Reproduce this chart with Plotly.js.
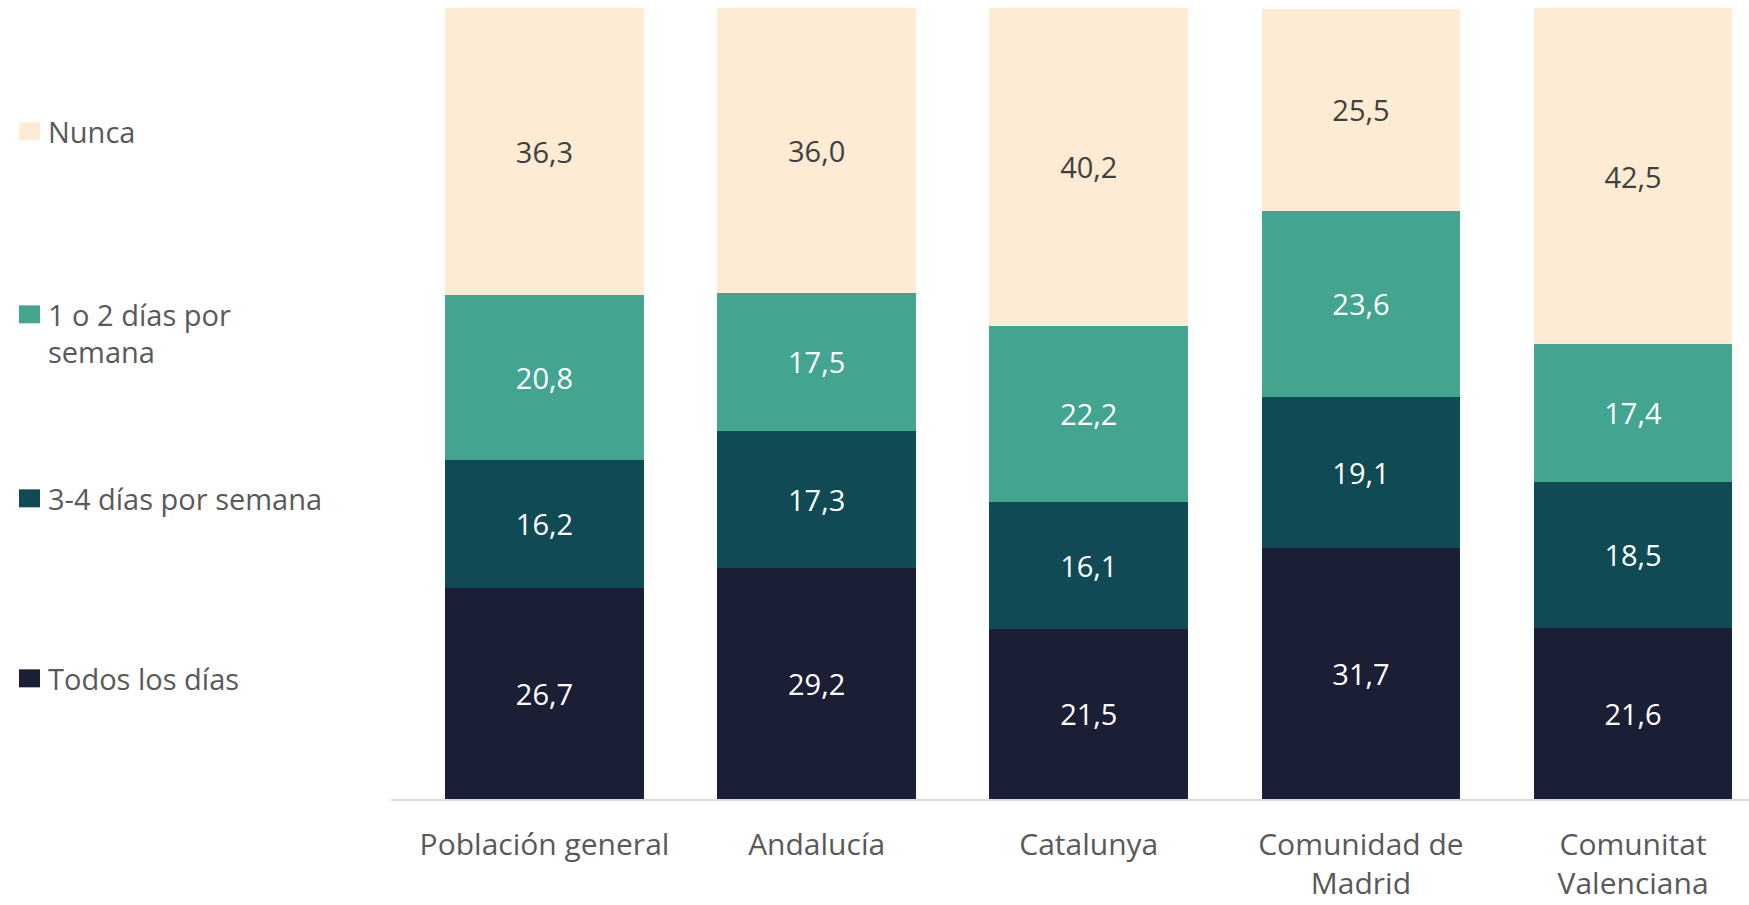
<!DOCTYPE html>
<html>
<head>
<meta charset="utf-8">
<script src="https://cdn.plot.ly/plotly-3.0.1.min.js"></script>
<style>html,body{margin:0;padding:0;background:#fff;}#chart{width:1749px;height:905px;}</style>
</head>
<body>
<div id="chart"></div>
<script>
const categories = ["Población general", "Andalucía", "Catalunya", "Comunidad de<br>Madrid", "Comunitat<br>Valenciana"];
const todosLosDias = [26.7, 29.2, 21.5, 31.7, 21.6];
const tresCuatroDias = [16.2, 17.3, 16.1, 19.1, 18.5];
const unoDosDias = [20.8, 17.5, 22.2, 23.6, 17.4];
const nunca = [36.3, 36.0, 40.2, 25.5, 42.5];
const seriesNames = ["Todos los días", "3-4 días por semana", "1 o 2 días por<br>semana", "Nunca"];

const colors = ["#1B1F35", "#0F4A55", "#43A58F", "#FDEBD4"];
const textColors = ["#FFFFFF", "#FFFFFF", "#FFFFFF", "#404040"];
const seriesData = [todosLosDias, tresCuatroDias, unoDosDias, nunca];
const legendIds = ["legend4", "legend3", "legend2", "legend"];
const FONT = "Open Sans, Noto Sans, sans-serif";

const traces = seriesData.map((vals, i) => ({
  type: "bar",
  name: seriesNames[i],
  x: categories,
  y: vals,
  width: 0.73,
  marker: {color: colors[i], line: {width: 0}},
  texttemplate: "%{y:.1f}",
  textposition: "inside",
  insidetextanchor: "middle",
  textangle: 0,
  constraintext: "none",
  textfont: {family: FONT, size: 29, color: textColors[i]},
  hoverinfo: "skip",
  legend: legendIds[i]
}));

// plot area in pixels: x 391..1749, y 8..799
const L = 391, R = 1749, T = 8, B = 799;
const W = R - L, H = B - T;
function lx(px) { return (px - L) / W; }
function ly(py) { return (B - py) / H; }
function legendAt(py, valign) {
  return {
    x: lx(8), y: ly(py), xanchor: "left", yanchor: "top",
    font: {family: FONT, size: 29, color: "#595959"},
    bgcolor: "rgba(0,0,0,0)", borderwidth: 0,
    valign: valign || "middle",
    itemclick: false, itemdoubleclick: false
  };
}

const layout = {
  width: 1749, height: 905,
  margin: {l: L, r: 1749 - R, t: T, b: 905 - B, pad: 0},
  paper_bgcolor: "#FFFFFF",
  plot_bgcolor: "#FFFFFF",
  barmode: "stack",
  separators: ",.",
  font: {family: FONT, color: "#595959"},
  showlegend: true,
  legend: legendAt(106),
  legend2: legendAt(289, "top"),
  legend3: legendAt(473),
  legend4: legendAt(653),
  xaxis: {
    type: "category",
    range: [-0.564, 4.426],
    showgrid: false,
    zeroline: false,
    showline: true,
    linecolor: "#D9D9D9",
    linewidth: 2,
    ticks: "",
    tickfont: {family: FONT, size: 30, color: "#595959"},
    ticklabelstandoff: 18,
    fixedrange: true
  },
  yaxis: {
    range: [0, 100],
    showgrid: false,
    zeroline: false,
    showline: false,
    showticklabels: false,
    ticks: "",
    fixedrange: true
  }
};

Plotly.newPlot("chart", traces, layout, {displayModeBar: false, staticPlot: true}).then(function (gd) {
  // enlarge the legend swatches to match the reference's square markers
  gd.querySelectorAll(".legendpoints path").forEach(function (p) {
    p.setAttribute("d", "M12,9H-9V-9H12Z");
  });
});
</script>
</body>
</html>
